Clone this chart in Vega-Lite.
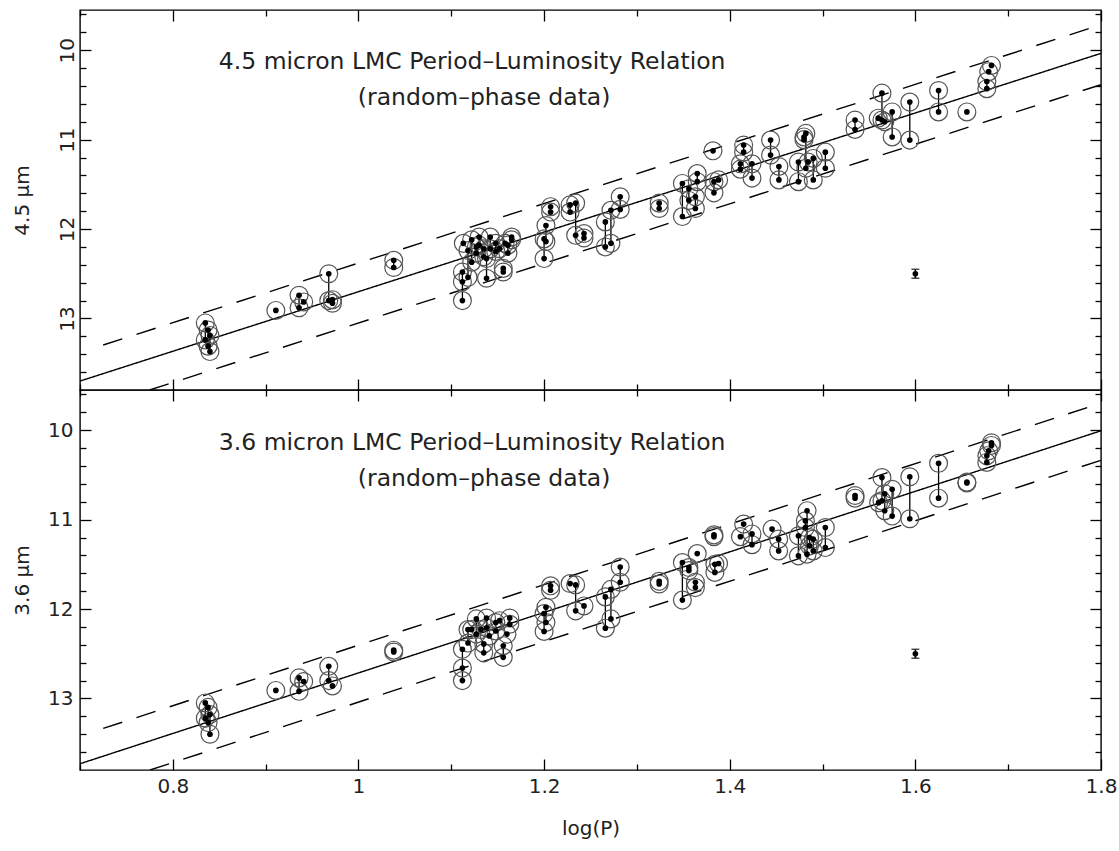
{
  "$schema": "https://vega.github.io/schema/vega-lite/v6.json",
  "padding": {"left": 11, "top": 8, "right": 5, "bottom": 5},
  "spacing": 0,
  "bounds": "flush",
  "config": {
    "view": {"stroke": "black", "strokeWidth": 1.4},
    "font": "DejaVu Sans",
    "axis": {"grid": false, "domain": false, "tickColor": "black", "tickWidth": 1.3, "labelFont": "DejaVu Sans", "titleFont": "DejaVu Sans", "labelColor": "#222", "titleColor": "#222", "titleFontWeight": "normal", "labelFontSize": 20, "titleFontSize": 20, "minExtent": 0, "labelFlush": false, "labelOverlap": false}
  },
  "datasets": {
    "fitTop": [
      {"k": "fit", "x": 0.7, "mag": 13.70}, {"k": "fit", "x": 1.8, "mag": 10.035},
      {"k": "up", "x": 0.725, "mag": 13.297}, {"k": "up", "x": 1.8, "mag": 9.715},
      {"k": "lo", "x": 0.775, "mag": 13.8}, {"k": "lo", "x": 1.8, "mag": 10.385}
    ],
    "fitBot": [
      {"k": "fit", "x": 0.7, "mag": 13.73}, {"k": "fit", "x": 1.8, "mag": 10.006},
      {"k": "up", "x": 0.725, "mag": 13.335}, {"k": "up", "x": 1.8, "mag": 9.696},
      {"k": "lo", "x": 0.7754, "mag": 13.8}, {"k": "lo", "x": 1.8, "mag": 10.336}
    ],
    "err": [{"x": 1.6, "mag": 12.5, "lo": 12.45, "hi": 12.55}],
    "top": [
      {"s": "t1", "x": 0.835, "mag": 13.05}, {"s": "t1", "x": 0.835, "mag": 13.24},
      {"s": "t2", "x": 0.838, "mag": 13.13}, {"s": "t2", "x": 0.838, "mag": 13.31},
      {"s": "t3", "x": 0.840, "mag": 13.19}, {"s": "t3", "x": 0.840, "mag": 13.37},
      {"s": "t4", "x": 0.911, "mag": 12.91},
      {"s": "t5", "x": 0.936, "mag": 12.74}, {"s": "t5", "x": 0.936, "mag": 12.88},
      {"s": "t6", "x": 0.941, "mag": 12.815},
      {"s": "t7", "x": 0.968, "mag": 12.50}, {"s": "t7", "x": 0.968, "mag": 12.80},
      {"s": "t8", "x": 0.972, "mag": 12.79}, {"s": "t8", "x": 0.972, "mag": 12.83},
      {"s": "t9", "x": 1.038, "mag": 12.35}, {"s": "t9", "x": 1.038, "mag": 12.43},
      {"s": "t10", "x": 1.112, "mag": 12.48}, {"s": "t10", "x": 1.112, "mag": 12.59}, {"s": "t10", "x": 1.112, "mag": 12.80},
      {"s": "t11", "x": 1.113, "mag": 12.16},
      {"s": "t12", "x": 1.118, "mag": 12.24}, {"s": "t12", "x": 1.118, "mag": 12.54},
      {"s": "t13", "x": 1.122, "mag": 12.12}, {"s": "t13", "x": 1.122, "mag": 12.37},
      {"s": "t14", "x": 1.127, "mag": 12.20}, {"s": "t14", "x": 1.127, "mag": 12.27},
      {"s": "t15", "x": 1.130, "mag": 12.09}, {"s": "t15", "x": 1.130, "mag": 12.18},
      {"s": "t16", "x": 1.135, "mag": 12.22}, {"s": "t16", "x": 1.135, "mag": 12.31},
      {"s": "t17", "x": 1.138, "mag": 12.33}, {"s": "t17", "x": 1.138, "mag": 12.55},
      {"s": "t18", "x": 1.142, "mag": 12.09}, {"s": "t18", "x": 1.142, "mag": 12.22},
      {"s": "t19", "x": 1.148, "mag": 12.16}, {"s": "t19", "x": 1.148, "mag": 12.25},
      {"s": "t20", "x": 1.152, "mag": 12.22},
      {"s": "t21", "x": 1.156, "mag": 12.44}, {"s": "t21", "x": 1.156, "mag": 12.48},
      {"s": "t21b", "x": 1.158, "mag": 12.16},
      {"s": "t22", "x": 1.161, "mag": 12.18}, {"s": "t22", "x": 1.161, "mag": 12.27},
      {"s": "t23", "x": 1.165, "mag": 12.09}, {"s": "t23", "x": 1.165, "mag": 12.12},
      {"s": "t24", "x": 1.200, "mag": 12.11}, {"s": "t24", "x": 1.200, "mag": 12.33},
      {"s": "t25", "x": 1.202, "mag": 11.96}, {"s": "t25", "x": 1.202, "mag": 12.14},
      {"s": "t26", "x": 1.207, "mag": 11.75}, {"s": "t26", "x": 1.207, "mag": 11.81},
      {"s": "t27", "x": 1.228, "mag": 11.73}, {"s": "t27", "x": 1.228, "mag": 11.81},
      {"s": "t28", "x": 1.234, "mag": 11.71}, {"s": "t28", "x": 1.234, "mag": 12.07},
      {"s": "t29", "x": 1.243, "mag": 12.05}, {"s": "t29", "x": 1.243, "mag": 12.10},
      {"s": "t30", "x": 1.266, "mag": 11.92}, {"s": "t30", "x": 1.266, "mag": 12.20},
      {"s": "t31", "x": 1.272, "mag": 11.79}, {"s": "t31", "x": 1.272, "mag": 12.16},
      {"s": "t32", "x": 1.282, "mag": 11.64}, {"s": "t32", "x": 1.282, "mag": 11.78},
      {"s": "t33", "x": 1.324, "mag": 11.71}, {"s": "t33", "x": 1.324, "mag": 11.77},
      {"s": "t34", "x": 1.349, "mag": 11.49}, {"s": "t34", "x": 1.349, "mag": 11.86},
      {"s": "t35", "x": 1.356, "mag": 11.55}, {"s": "t35", "x": 1.356, "mag": 11.68},
      {"s": "t36", "x": 1.363, "mag": 11.64}, {"s": "t36", "x": 1.363, "mag": 11.77},
      {"s": "t37", "x": 1.365, "mag": 11.38}, {"s": "t37", "x": 1.365, "mag": 11.47},
      {"s": "t38", "x": 1.382, "mag": 11.125},
      {"s": "t39", "x": 1.383, "mag": 11.47}, {"s": "t39", "x": 1.383, "mag": 11.595},
      {"s": "t40", "x": 1.388, "mag": 11.45},
      {"s": "t41", "x": 1.4115, "mag": 11.27}, {"s": "t41", "x": 1.4115, "mag": 11.33},
      {"s": "t42", "x": 1.415, "mag": 11.06}, {"s": "t42", "x": 1.415, "mag": 11.14},
      {"s": "t43", "x": 1.424, "mag": 11.27}, {"s": "t43", "x": 1.424, "mag": 11.43},
      {"s": "t44", "x": 1.444, "mag": 11.005}, {"s": "t44", "x": 1.444, "mag": 11.173},
      {"s": "t45", "x": 1.453, "mag": 11.30}, {"s": "t45", "x": 1.453, "mag": 11.45},
      {"s": "t46", "x": 1.474, "mag": 11.25}, {"s": "t46", "x": 1.474, "mag": 11.47},
      {"s": "t47", "x": 1.480, "mag": 10.97}, {"s": "t47", "x": 1.480, "mag": 11.0},
      {"s": "t48", "x": 1.482, "mag": 10.93}, {"s": "t48", "x": 1.482, "mag": 11.32},
      {"s": "t49", "x": 1.4845, "mag": 11.25},
      {"s": "t50", "x": 1.490, "mag": 11.21}, {"s": "t50", "x": 1.490, "mag": 11.45},
      {"s": "t51", "x": 1.503, "mag": 11.14}, {"s": "t51", "x": 1.503, "mag": 11.32},
      {"s": "t52", "x": 1.535, "mag": 10.78}, {"s": "t52", "x": 1.535, "mag": 10.886},
      {"s": "t53", "x": 1.560, "mag": 10.76},
      {"s": "t54", "x": 1.564, "mag": 10.48}, {"s": "t54", "x": 1.564, "mag": 10.78},
      {"s": "t55", "x": 1.567, "mag": 10.80},
      {"s": "t56", "x": 1.575, "mag": 10.69}, {"s": "t56", "x": 1.575, "mag": 10.97},
      {"s": "t57", "x": 1.594, "mag": 10.58}, {"s": "t57", "x": 1.594, "mag": 11.005},
      {"s": "t58", "x": 1.625, "mag": 10.45}, {"s": "t58", "x": 1.625, "mag": 10.69},
      {"s": "t59", "x": 1.6555, "mag": 10.69},
      {"s": "t60", "x": 1.677, "mag": 10.35}, {"s": "t60", "x": 1.677, "mag": 10.43},
      {"s": "t61", "x": 1.679, "mag": 10.24},
      {"s": "t62", "x": 1.682, "mag": 10.17}
    ],
    "bottom": [
      {"s": "b1", "x": 0.835, "mag": 13.05}, {"s": "b1", "x": 0.835, "mag": 13.22},
      {"s": "b2", "x": 0.838, "mag": 13.10}, {"s": "b2", "x": 0.838, "mag": 13.27},
      {"s": "b3", "x": 0.840, "mag": 13.18}, {"s": "b3", "x": 0.840, "mag": 13.40},
      {"s": "b4", "x": 0.911, "mag": 12.91},
      {"s": "b5", "x": 0.936, "mag": 12.77}, {"s": "b5", "x": 0.936, "mag": 12.92},
      {"s": "b6", "x": 0.941, "mag": 12.81},
      {"s": "b7", "x": 0.968, "mag": 12.64}, {"s": "b7", "x": 0.968, "mag": 12.80},
      {"s": "b8", "x": 0.972, "mag": 12.86},
      {"s": "b9", "x": 1.038, "mag": 12.46}, {"s": "b9", "x": 1.038, "mag": 12.48},
      {"s": "b10", "x": 1.112, "mag": 12.45}, {"s": "b10", "x": 1.112, "mag": 12.66}, {"s": "b10", "x": 1.112, "mag": 12.80},
      {"s": "b11", "x": 1.118, "mag": 12.23}, {"s": "b11", "x": 1.118, "mag": 12.38},
      {"s": "b12", "x": 1.122, "mag": 12.23},
      {"s": "b13", "x": 1.127, "mag": 12.11}, {"s": "b13", "x": 1.127, "mag": 12.28},
      {"s": "b14", "x": 1.132, "mag": 12.23},
      {"s": "b15", "x": 1.135, "mag": 12.39}, {"s": "b15", "x": 1.135, "mag": 12.49},
      {"s": "b16", "x": 1.138, "mag": 12.10}, {"s": "b16", "x": 1.138, "mag": 12.21},
      {"s": "b17", "x": 1.141, "mag": 12.30},
      {"s": "b18", "x": 1.148, "mag": 12.15}, {"s": "b18", "x": 1.148, "mag": 12.245},
      {"s": "b19", "x": 1.152, "mag": 12.13},
      {"s": "b20", "x": 1.156, "mag": 12.41}, {"s": "b20", "x": 1.156, "mag": 12.54},
      {"s": "b21", "x": 1.160, "mag": 12.28},
      {"s": "b22", "x": 1.163, "mag": 12.10}, {"s": "b22", "x": 1.163, "mag": 12.17},
      {"s": "b23", "x": 1.200, "mag": 12.05}, {"s": "b23", "x": 1.200, "mag": 12.25},
      {"s": "b24", "x": 1.202, "mag": 11.98}, {"s": "b24", "x": 1.202, "mag": 12.15},
      {"s": "b25", "x": 1.207, "mag": 11.74}, {"s": "b25", "x": 1.207, "mag": 11.79},
      {"s": "b26", "x": 1.228, "mag": 11.715},
      {"s": "b27", "x": 1.234, "mag": 11.73}, {"s": "b27", "x": 1.234, "mag": 12.02},
      {"s": "b28", "x": 1.243, "mag": 11.965},
      {"s": "b29", "x": 1.266, "mag": 11.864}, {"s": "b29", "x": 1.266, "mag": 12.214},
      {"s": "b30", "x": 1.272, "mag": 11.78}, {"s": "b30", "x": 1.272, "mag": 12.11},
      {"s": "b31", "x": 1.282, "mag": 11.53}, {"s": "b31", "x": 1.282, "mag": 11.70},
      {"s": "b32", "x": 1.324, "mag": 11.69}, {"s": "b32", "x": 1.324, "mag": 11.72},
      {"s": "b33", "x": 1.349, "mag": 11.48}, {"s": "b33", "x": 1.349, "mag": 11.90},
      {"s": "b34", "x": 1.356, "mag": 11.536}, {"s": "b34", "x": 1.356, "mag": 11.57},
      {"s": "b35", "x": 1.365, "mag": 11.38},
      {"s": "b35b", "x": 1.363, "mag": 11.70}, {"s": "b35b", "x": 1.363, "mag": 11.76},
      {"s": "b36", "x": 1.383, "mag": 11.17}, {"s": "b36", "x": 1.383, "mag": 11.19},
      {"s": "b37", "x": 1.384, "mag": 11.50}, {"s": "b37", "x": 1.384, "mag": 11.59},
      {"s": "b38", "x": 1.388, "mag": 11.49},
      {"s": "b39", "x": 1.4115, "mag": 11.19},
      {"s": "b40", "x": 1.415, "mag": 11.05},
      {"s": "b41", "x": 1.424, "mag": 11.16}, {"s": "b41", "x": 1.424, "mag": 11.28},
      {"s": "b42", "x": 1.4456, "mag": 11.106},
      {"s": "b43", "x": 1.4527, "mag": 11.218}, {"s": "b43", "x": 1.4527, "mag": 11.35},
      {"s": "b44", "x": 1.474, "mag": 11.18}, {"s": "b44", "x": 1.474, "mag": 11.405},
      {"s": "b45", "x": 1.4815, "mag": 11.013}, {"s": "b45", "x": 1.4815, "mag": 11.088},
      {"s": "b46", "x": 1.4833, "mag": 10.90}, {"s": "b46", "x": 1.4833, "mag": 11.386},
      {"s": "b47", "x": 1.486, "mag": 11.20}, {"s": "b47", "x": 1.486, "mag": 11.293},
      {"s": "b48", "x": 1.490, "mag": 11.218}, {"s": "b48", "x": 1.490, "mag": 11.35},
      {"s": "b49", "x": 1.503, "mag": 11.088}, {"s": "b49", "x": 1.503, "mag": 11.312},
      {"s": "b50", "x": 1.535, "mag": 10.73}, {"s": "b50", "x": 1.535, "mag": 10.76},
      {"s": "b51", "x": 1.5604, "mag": 10.81},
      {"s": "b52", "x": 1.564, "mag": 10.53}, {"s": "b52", "x": 1.564, "mag": 10.79},
      {"s": "b53", "x": 1.567, "mag": 10.71}, {"s": "b53", "x": 1.567, "mag": 10.90},
      {"s": "b54", "x": 1.575, "mag": 10.66}, {"s": "b54", "x": 1.575, "mag": 10.96},
      {"s": "b55", "x": 1.594, "mag": 10.52}, {"s": "b55", "x": 1.594, "mag": 10.99},
      {"s": "b56", "x": 1.625, "mag": 10.37}, {"s": "b56", "x": 1.625, "mag": 10.76},
      {"s": "b57", "x": 1.6555, "mag": 10.58}, {"s": "b57", "x": 1.6555, "mag": 10.59},
      {"s": "b58", "x": 1.677, "mag": 10.285}, {"s": "b58", "x": 1.677, "mag": 10.36},
      {"s": "b59", "x": 1.679, "mag": 10.23},
      {"s": "b60", "x": 1.682, "mag": 10.14}, {"s": "b60", "x": 1.682, "mag": 10.17}
    ]
  },
  "vconcat": [
    {
      "width": 1021,
      "height": 380,
      "resolve": {"axis": {"x": "independent", "y": "independent"}},
      "layer": [
        {
          "data": {"name": "fitTop"},
          "mark": {"type": "line", "clip": true, "color": "black", "strokeWidth": 1.4},
          "encoding": {
            "x": {"field": "x", "type": "quantitative", "scale": {"domain": [0.7, 1.8], "nice": false, "zero": false},
                  "axis": {"orient": "bottom", "values": [0.8, 1, 1.2, 1.4, 1.6, 1.8], "labels": false, "tickSize": -11, "title": null, "maxExtent": 0}},
            "y": {"field": "mag", "type": "quantitative", "scale": {"domain": [9.55, 13.8], "nice": false, "zero": false, "reverse": true},
                  "axis": {"orient": "left", "values": [10, 11, 12, 13], "ticks": false, "labelAngle": -90, "labelAlign": "center", "labelBaseline": "bottom", "labelPadding": 3, "title": "4.5 μm", "titlePadding": 8, "minExtent": 40, "maxExtent": 40}},
            "detail": {"field": "k"},
            "strokeDash": {"field": "k", "type": "nominal", "scale": {"domain": ["fit", "up", "lo"], "range": [[1, 0], [20, 15], [20, 15]]}, "legend": null}
          }
        },
        {
          "data": {"name": "top"},
          "mark": {"type": "rule", "color": "black", "strokeWidth": 1.3},
          "encoding": {
            "x": {"field": "x", "type": "quantitative", "scale": {"domain": [0.7, 1.8], "nice": false, "zero": false},
                  "axis": {"orient": "bottom", "values": [0.7, 0.9, 1.1, 1.3, 1.5, 1.7], "labels": false, "tickSize": -6, "title": null, "maxExtent": 0}},
            "y": {"aggregate": "min", "field": "mag", "type": "quantitative", "scale": {"domain": [9.55, 13.8], "nice": false, "zero": false, "reverse": true},
                  "axis": {"orient": "left", "values": [10, 11, 12, 13], "labels": false, "tickSize": -11, "title": null, "maxExtent": 0}},
            "y2": {"aggregate": "max", "field": "mag"},
            "detail": {"field": "s"}
          }
        },
        {
          "data": {"name": "top"},
          "mark": {"type": "point", "filled": false, "stroke": "#555", "strokeWidth": 1.2, "size": 320, "opacity": 1},
          "encoding": {
            "x": {"field": "x", "type": "quantitative", "scale": {"domain": [0.7, 1.8], "nice": false, "zero": false},
                  "axis": {"orient": "top", "values": [0.8, 1, 1.2, 1.4, 1.6, 1.8], "labels": false, "tickSize": -11, "title": null, "maxExtent": 0}},
            "y": {"field": "mag", "type": "quantitative", "scale": {"domain": [9.55, 13.8], "nice": false, "zero": false, "reverse": true},
                  "axis": {"orient": "left", "values": [9.6, 9.8, 10.2, 10.4, 10.6, 10.8, 11.2, 11.4, 11.6, 11.8, 12.2, 12.4, 12.6, 12.8, 13.2, 13.4, 13.6], "labels": false, "tickSize": -6, "title": null, "maxExtent": 0}}
          }
        },
        {
          "data": {"name": "top"},
          "mark": {"type": "point", "filled": true, "color": "black", "size": 32, "opacity": 1},
          "encoding": {
            "x": {"field": "x", "type": "quantitative", "scale": {"domain": [0.7, 1.8], "nice": false, "zero": false},
                  "axis": {"orient": "top", "values": [0.7, 0.9, 1.1, 1.3, 1.5, 1.7], "labels": false, "tickSize": -6, "title": null, "maxExtent": 0}},
            "y": {"field": "mag", "type": "quantitative", "scale": {"domain": [9.55, 13.8], "nice": false, "zero": false, "reverse": true},
                  "axis": {"orient": "right", "values": [10, 11, 12, 13], "labels": false, "tickSize": -11, "title": null, "maxExtent": 0}}
          }
        },
        {
          "data": {"name": "err"},
          "mark": {"type": "rule", "color": "black", "strokeWidth": 1.5},
          "encoding": {
            "x": {"field": "x", "type": "quantitative", "scale": {"domain": [0.7, 1.8], "nice": false, "zero": false}, "axis": null},
            "y": {"field": "lo", "type": "quantitative", "scale": {"domain": [9.55, 13.8], "nice": false, "zero": false, "reverse": true},
                  "axis": {"orient": "right", "values": [9.6, 9.8, 10.2, 10.4, 10.6, 10.8, 11.2, 11.4, 11.6, 11.8, 12.2, 12.4, 12.6, 12.8, 13.2, 13.4, 13.6], "labels": false, "tickSize": -6, "title": null, "maxExtent": 0}},
            "y2": {"field": "hi"}
          }
        },
        {
          "data": {"name": "err"},
          "mark": {"type": "tick", "orient": "horizontal", "color": "black", "size": 8, "thickness": 1.5},
          "encoding": {
            "x": {"field": "x", "type": "quantitative", "scale": {"domain": [0.7, 1.8], "nice": false, "zero": false}, "axis": null},
            "y": {"field": "lo", "type": "quantitative", "scale": {"domain": [9.55, 13.8], "nice": false, "zero": false, "reverse": true}, "axis": null}
          }
        },
        {
          "data": {"name": "err"},
          "mark": {"type": "tick", "orient": "horizontal", "color": "black", "size": 8, "thickness": 1.5},
          "encoding": {
            "x": {"field": "x", "type": "quantitative", "scale": {"domain": [0.7, 1.8], "nice": false, "zero": false}, "axis": null},
            "y": {"field": "hi", "type": "quantitative", "scale": {"domain": [9.55, 13.8], "nice": false, "zero": false, "reverse": true}, "axis": null}
          }
        },
        {
          "data": {"name": "err"},
          "mark": {"type": "point", "filled": true, "color": "black", "size": 32, "opacity": 1},
          "encoding": {
            "x": {"field": "x", "type": "quantitative", "scale": {"domain": [0.7, 1.8], "nice": false, "zero": false}, "axis": null},
            "y": {"field": "mag", "type": "quantitative", "scale": {"domain": [9.55, 13.8], "nice": false, "zero": false, "reverse": true}, "axis": null}
          }
        },
        {
          "data": {"values": [{}]},
          "mark": {"type": "text", "text": "4.5 micron LMC Period–Luminosity Relation", "fontSize": 23.5, "align": "center", "baseline": "middle", "color": "#222"},
          "encoding": {
            "x": {"datum": 1.1225, "type": "quantitative", "scale": {"domain": [0.7, 1.8], "nice": false, "zero": false}, "axis": null},
            "y": {"datum": 10.132, "type": "quantitative", "scale": {"domain": [9.55, 13.8], "nice": false, "zero": false, "reverse": true}, "axis": null}
          }
        },
        {
          "data": {"values": [{}]},
          "mark": {"type": "text", "text": "(random–phase data)", "fontSize": 23.5, "align": "center", "baseline": "middle", "color": "#222"},
          "encoding": {
            "x": {"datum": 1.1354, "type": "quantitative", "scale": {"domain": [0.7, 1.8], "nice": false, "zero": false}, "axis": null},
            "y": {"datum": 10.538, "type": "quantitative", "scale": {"domain": [9.55, 13.8], "nice": false, "zero": false, "reverse": true}, "axis": null}
          }
        }
      ]
    },
    {
      "width": 1021,
      "height": 380,
      "resolve": {"axis": {"x": "independent", "y": "independent"}},
      "layer": [
        {
          "data": {"name": "fitBot"},
          "mark": {"type": "line", "clip": true, "color": "black", "strokeWidth": 1.4},
          "encoding": {
            "x": {"field": "x", "type": "quantitative", "scale": {"domain": [0.7, 1.8], "nice": false, "zero": false},
                  "axis": {"orient": "bottom", "values": [0.8, 1, 1.2, 1.4, 1.6, 1.8], "labels": false, "tickSize": -11, "title": null, "maxExtent": 0}},
            "y": {"field": "mag", "type": "quantitative", "scale": {"domain": [9.55, 13.8], "nice": false, "zero": false, "reverse": true},
                  "axis": {"orient": "left", "values": [10, 11, 12, 13], "ticks": false, "labelAngle": 0, "labelAlign": "right", "labelBaseline": "middle", "labelPadding": 7, "title": "3.6 μm", "titlePadding": 8, "minExtent": 40, "maxExtent": 40}},
            "detail": {"field": "k"},
            "strokeDash": {"field": "k", "type": "nominal", "scale": {"domain": ["fit", "up", "lo"], "range": [[1, 0], [20, 15], [20, 15]]}, "legend": null}
          }
        },
        {
          "data": {"name": "bottom"},
          "mark": {"type": "rule", "color": "black", "strokeWidth": 1.3},
          "encoding": {
            "x": {"field": "x", "type": "quantitative", "scale": {"domain": [0.7, 1.8], "nice": false, "zero": false},
                  "axis": {"orient": "bottom", "values": [0.7, 0.9, 1.1, 1.3, 1.5, 1.7], "labels": false, "tickSize": -6, "title": null, "maxExtent": 0}},
            "y": {"aggregate": "min", "field": "mag", "type": "quantitative", "scale": {"domain": [9.55, 13.8], "nice": false, "zero": false, "reverse": true},
                  "axis": {"orient": "left", "values": [10, 11, 12, 13], "labels": false, "tickSize": -11, "title": null, "maxExtent": 0}},
            "y2": {"aggregate": "max", "field": "mag"},
            "detail": {"field": "s"}
          }
        },
        {
          "data": {"name": "bottom"},
          "mark": {"type": "point", "filled": false, "stroke": "#555", "strokeWidth": 1.2, "size": 320, "opacity": 1},
          "encoding": {
            "x": {"field": "x", "type": "quantitative", "scale": {"domain": [0.7, 1.8], "nice": false, "zero": false},
                  "axis": {"orient": "top", "values": [0.8, 1, 1.2, 1.4, 1.6, 1.8], "labels": false, "tickSize": -11, "title": null, "maxExtent": 0}},
            "y": {"field": "mag", "type": "quantitative", "scale": {"domain": [9.55, 13.8], "nice": false, "zero": false, "reverse": true},
                  "axis": {"orient": "left", "values": [9.6, 9.8, 10.2, 10.4, 10.6, 10.8, 11.2, 11.4, 11.6, 11.8, 12.2, 12.4, 12.6, 12.8, 13.2, 13.4, 13.6], "labels": false, "tickSize": -6, "title": null, "maxExtent": 0}}
          }
        },
        {
          "data": {"name": "bottom"},
          "mark": {"type": "point", "filled": true, "color": "black", "size": 32, "opacity": 1},
          "encoding": {
            "x": {"field": "x", "type": "quantitative", "scale": {"domain": [0.7, 1.8], "nice": false, "zero": false},
                  "axis": {"orient": "top", "values": [0.7, 0.9, 1.1, 1.3, 1.5, 1.7], "labels": false, "tickSize": -6, "title": null, "maxExtent": 0}},
            "y": {"field": "mag", "type": "quantitative", "scale": {"domain": [9.55, 13.8], "nice": false, "zero": false, "reverse": true},
                  "axis": {"orient": "right", "values": [10, 11, 12, 13], "labels": false, "tickSize": -11, "title": null, "maxExtent": 0}}
          }
        },
        {
          "data": {"name": "err"},
          "mark": {"type": "rule", "color": "black", "strokeWidth": 1.5},
          "encoding": {
            "x": {"field": "x", "type": "quantitative", "scale": {"domain": [0.7, 1.8], "nice": false, "zero": false},
                  "axis": {"orient": "bottom", "values": [0.8, 1, 1.2, 1.4, 1.6, 1.8], "ticks": false, "labelPadding": 6, "labelExpr": "datum.value == 1 ? '1' : format(datum.value, '.1f')", "title": "log(P)", "titlePadding": 22}},
            "y": {"field": "lo", "type": "quantitative", "scale": {"domain": [9.55, 13.8], "nice": false, "zero": false, "reverse": true},
                  "axis": {"orient": "right", "values": [9.6, 9.8, 10.2, 10.4, 10.6, 10.8, 11.2, 11.4, 11.6, 11.8, 12.2, 12.4, 12.6, 12.8, 13.2, 13.4, 13.6], "labels": false, "tickSize": -6, "title": null, "maxExtent": 0}},
            "y2": {"field": "hi"}
          }
        },
        {
          "data": {"name": "err"},
          "mark": {"type": "tick", "orient": "horizontal", "color": "black", "size": 8, "thickness": 1.5},
          "encoding": {
            "x": {"field": "x", "type": "quantitative", "scale": {"domain": [0.7, 1.8], "nice": false, "zero": false}, "axis": null},
            "y": {"field": "lo", "type": "quantitative", "scale": {"domain": [9.55, 13.8], "nice": false, "zero": false, "reverse": true}, "axis": null}
          }
        },
        {
          "data": {"name": "err"},
          "mark": {"type": "tick", "orient": "horizontal", "color": "black", "size": 8, "thickness": 1.5},
          "encoding": {
            "x": {"field": "x", "type": "quantitative", "scale": {"domain": [0.7, 1.8], "nice": false, "zero": false}, "axis": null},
            "y": {"field": "hi", "type": "quantitative", "scale": {"domain": [9.55, 13.8], "nice": false, "zero": false, "reverse": true}, "axis": null}
          }
        },
        {
          "data": {"name": "err"},
          "mark": {"type": "point", "filled": true, "color": "black", "size": 32, "opacity": 1},
          "encoding": {
            "x": {"field": "x", "type": "quantitative", "scale": {"domain": [0.7, 1.8], "nice": false, "zero": false}, "axis": null},
            "y": {"field": "mag", "type": "quantitative", "scale": {"domain": [9.55, 13.8], "nice": false, "zero": false, "reverse": true}, "axis": null}
          }
        },
        {
          "data": {"values": [{}]},
          "mark": {"type": "text", "text": "3.6 micron LMC Period–Luminosity Relation", "fontSize": 23.5, "align": "center", "baseline": "middle", "color": "#222"},
          "encoding": {
            "x": {"datum": 1.1225, "type": "quantitative", "scale": {"domain": [0.7, 1.8], "nice": false, "zero": false}, "axis": null},
            "y": {"datum": 10.143, "type": "quantitative", "scale": {"domain": [9.55, 13.8], "nice": false, "zero": false, "reverse": true}, "axis": null}
          }
        },
        {
          "data": {"values": [{}]},
          "mark": {"type": "text", "text": "(random–phase data)", "fontSize": 23.5, "align": "center", "baseline": "middle", "color": "#222"},
          "encoding": {
            "x": {"datum": 1.1354, "type": "quantitative", "scale": {"domain": [0.7, 1.8], "nice": false, "zero": false}, "axis": null},
            "y": {"datum": 10.546, "type": "quantitative", "scale": {"domain": [9.55, 13.8], "nice": false, "zero": false, "reverse": true}, "axis": null}
          }
        }
      ]
    }
  ]
}
